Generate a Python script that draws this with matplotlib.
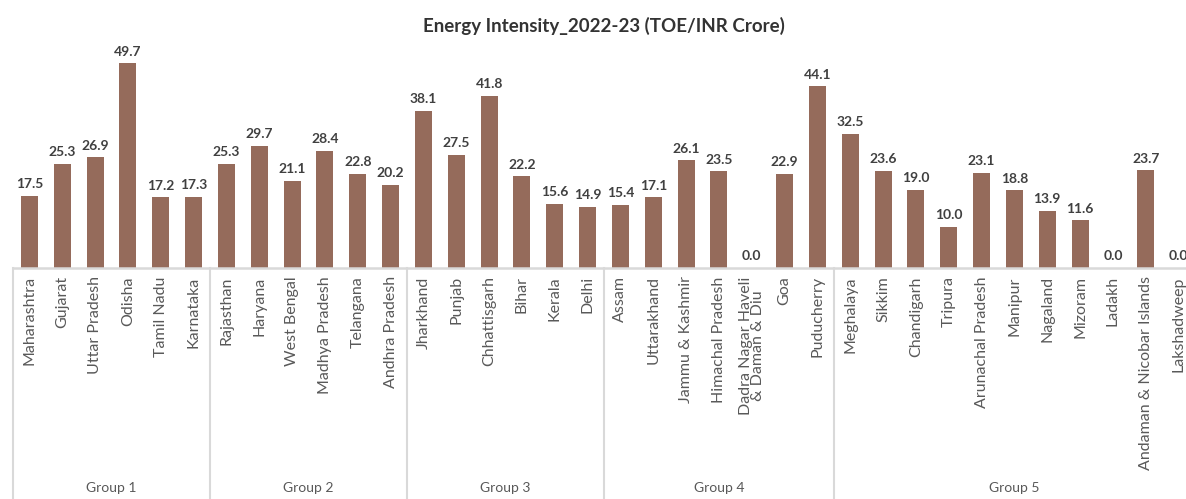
import matplotlib.pyplot as plt
import matplotlib.transforms as mtransforms
from matplotlib.lines import Line2D

plt.rcParams['font.family'] = ['Lato', 'DejaVu Sans']

# State-wise energy intensity, grouped as in the report
states = [
    'Maharashtra', 'Gujarat', 'Uttar Pradesh', 'Odisha', 'Tamil Nadu', 'Karnataka',
    'Rajasthan', 'Haryana', 'West Bengal', 'Madhya Pradesh', 'Telangana', 'Andhra Pradesh',
    'Jharkhand', 'Punjab', 'Chhattisgarh', 'Bihar', 'Kerala', 'Delhi',
    'Assam', 'Uttarakhand', 'Jammu & Kashmir', 'Himachal Pradesh',
    'Dadra Nagar Haveli\n& Daman & Diu', 'Goa', 'Puducherry',
    'Meghalaya', 'Sikkim', 'Chandigarh', 'Tripura', 'Arunachal Pradesh', 'Manipur',
    'Nagaland', 'Mizoram', 'Ladakh', 'Andaman & Nicobar Islands', 'Lakshadweep',
]
intensity = [
    17.5, 25.3, 26.9, 49.7, 17.2, 17.3,
    25.3, 29.7, 21.1, 28.4, 22.8, 20.2,
    38.1, 27.5, 41.8, 22.2, 15.6, 14.9,
    15.4, 17.1, 26.1, 23.5, 0.0, 22.9, 44.1,
    32.5, 23.6, 19.0, 10.0, 23.1, 18.8, 13.9, 11.6, 0.0, 23.7, 0.0,
]
group_names = ['Group 1', 'Group 2', 'Group 3', 'Group 4', 'Group 5']
group_sizes = [6, 6, 6, 7, 11]

BAR_COLOR = '#956b5b'
GRID_GRAY = '#d9d9d9'
TEXT_GRAY = '#595959'

W, H = 1186, 499
fig = plt.figure(figsize=(W / 100, H / 100), dpi=100)
# the plot area runs a little past the right edge of the canvas
ax_left, ax_right, ax_top, ax_bottom = 13, 1195, 40, 268
ax = fig.add_axes([ax_left / W, 1 - ax_bottom / H,
                   (ax_right - ax_left) / W, (ax_bottom - ax_top) / H])

x = list(range(len(states)))
bars = ax.bar(x, intensity, width=0.52, color=BAR_COLOR, zorder=2)

for xi, v in zip(x, intensity):
    ax.annotate(f'{v:.1f}', (xi, v), xytext=(0, 4), textcoords='offset points',
                ha='center', va='bottom', fontsize=10, fontweight='bold',
                color='#404040')

ax.set_xlim(-0.5, len(states) - 0.5)
ax.set_ylim(0, 55.3)
ax.set_yticks([])
for side in ['left', 'right', 'top']:
    ax.spines[side].set_visible(False)
ax.spines['bottom'].set_color(GRID_GRAY)
ax.spines['bottom'].set_linewidth(1.8)

ax.set_xticks(x)
ax.set_xticklabels(states, rotation=90, va='top', ha='center',
                   fontsize=11.5, color=TEXT_GRAY, linespacing=0.85)
ax.tick_params(axis='x', length=0, pad=6)

# group separators and group names below the category labels
trans = mtransforms.blended_transform_factory(ax.transData, ax.transAxes)
below = -(H - ax_bottom) / (ax_bottom - ax_top)
start = -0.5
for name, size in zip(group_names, group_sizes):
    ax.add_line(Line2D([start, start], [0, below], transform=trans,
                       color=GRID_GRAY, lw=1.5, clip_on=False))
    ax.text(start + size / 2, -(488 - ax_bottom) / (ax_bottom - ax_top), name,
            transform=trans, ha='center', va='center', fontsize=10,
            color=TEXT_GRAY)
    start += size
ax.add_line(Line2D([start, start], [0, below], transform=trans,
                   color=GRID_GRAY, lw=1.5, clip_on=False))

ax.set_title('Energy Intensity_2022-23 (TOE/INR Crore)', fontsize=13.5,
             fontweight='bold', color='#333333', pad=6)

fig.savefig('out.png', dpi=100)
